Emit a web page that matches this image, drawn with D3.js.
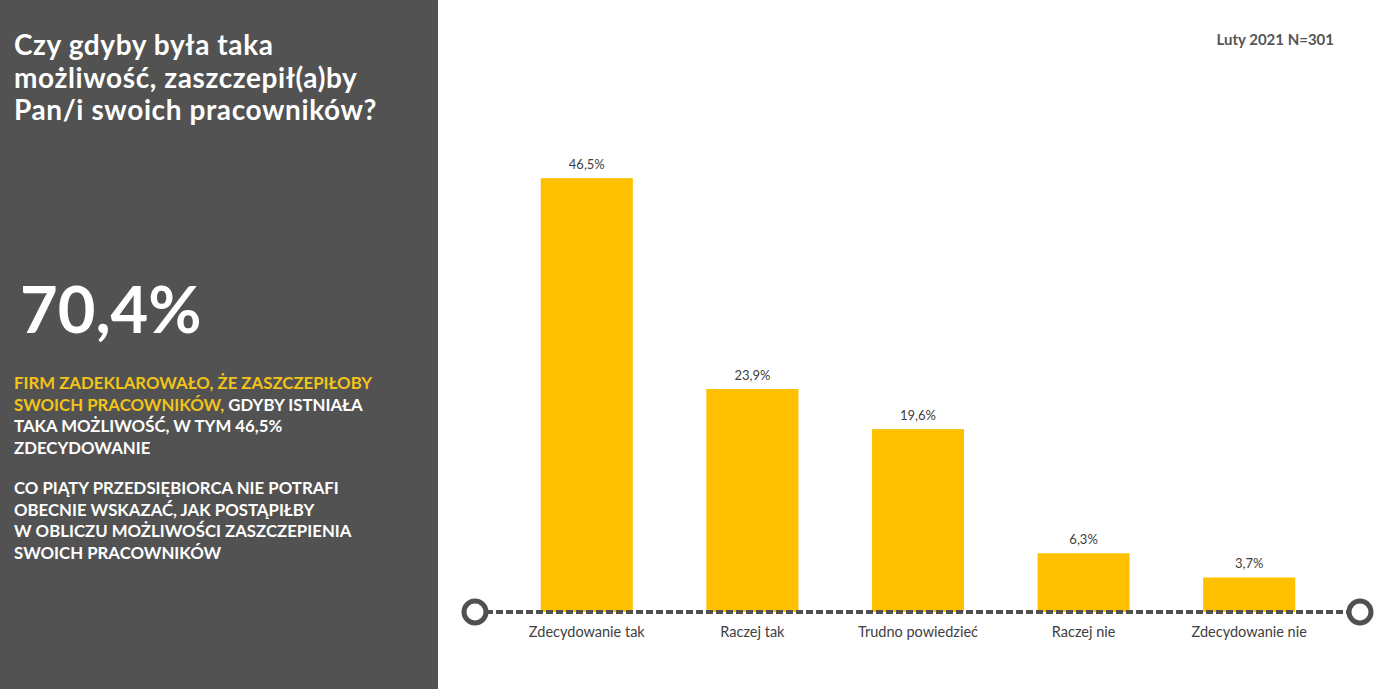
<!DOCTYPE html>
<html>
<head>
<meta charset="utf-8">
<script src="https://cdn.jsdelivr.net/npm/d3@7"></script>
<style>
  body { margin: 0; background: #fff; }
  svg { display: block; }
</style>
</head>
<body>
<svg id="chart"></svg>
<script>
// data
const categories = ["Zdecydowanie tak", "Raczej tak", "Trudno powiedzieć", "Raczej nie", "Zdecydowanie nie"];
const values = [46.5, 23.9, 19.6, 6.3, 3.7];
const valueLabels = ["46,5%", "23,9%", "19,6%", "6,3%", "3,7%"];
const titleLines = ["Czy gdyby była taka", "możliwość, zaszczepił(a)by", "Pan/i swoich pracowników?"];
const bigNumber = "70,4%";
const note = "Luty 2021 N=301";

const width = 1389, height = 689;
const panelW = 438;
const baseY = 612;
const font = "Lato, 'Noto Sans', sans-serif";

const svg = d3.select('#chart')
  .attr('width', width)
  .attr('height', height)
  .attr('viewBox', [0, 0, width, height]);

// left panel
svg.append('rect').attr('x', 0).attr('y', 0).attr('width', panelW).attr('height', height)
  .style('fill', '#525252');

svg.append('g').selectAll('text')
  .data(titleLines)
  .join('text')
  .attr('x', 14)
  .attr('y', (d, i) => 55 + i * 32.5)
  .text(d => d)
  .style('font-family', font)
  .style('font-weight', 'bold')
  .style('font-size', '28px')
  .style('letter-spacing', '0.6px')
  .style('fill', '#fff');

svg.append('text').attr('x', 20).attr('y', 333).text(bigNumber)
  .style('font-family', font)
  .style('font-weight', 'bold')
  .style('font-size', '65px')
  .style('fill', '#fff');

// paragraph lines: [ [text, colour], ... ]
const yellowTxt = '#f2c318';
const para = [
  [["FIRM ZADEKLAROWAŁO, ŻE ZASZCZEPIŁOBY", yellowTxt]],
  [["SWOICH PRACOWNIKÓW,", yellowTxt], [" GDYBY ISTNIAŁA", '#fff']],
  [["TAKA MOŻLIWOŚĆ, W TYM 46,5%", '#fff']],
  [["ZDECYDOWANIE", '#fff']],
  [["CO PIĄTY PRZEDSIĘBIORCA NIE POTRAFI", '#fff']],
  [["OBECNIE WSKAZAĆ, JAK POSTĄPIŁBY", '#fff']],
  [["W OBLICZU MOŻLIWOŚCI ZASZCZEPIENIA", '#fff']],
  [["SWOICH PRACOWNIKÓW", '#fff']]
];
const paraY = [389, 410.5, 432, 453.5, 494, 515.5, 537, 558.5];
para.forEach((line, i) => {
  const t = svg.append('text').attr('x', 14).attr('y', paraY[i])
    .style('font-family', font)
    .style('font-weight', 'bold')
    .style('font-size', '16.8px');
  line.forEach(seg => {
    t.append('tspan').text(seg[0]).style('fill', seg[1]);
  });
});

// date / sample note
svg.append('text').attr('x', 1334).attr('y', 45).text(note)
  .attr('text-anchor', 'end')
  .style('font-family', font)
  .style('font-weight', 'bold')
  .style('font-size', '15px')
  .style('fill', '#555');

// scales
const x = d3.scaleBand()
  .domain(categories)
  .range([504, 1332])
  .paddingInner(0.444)
  .paddingOuter(0.222);

const y = d3.scaleLinear()
  .domain([0, 50])
  .range([baseY, baseY - 466.5]);

// bars
svg.append('g').selectAll('rect')
  .data(values)
  .join('rect')
  .attr('x', (d, i) => x(categories[i]))
  .attr('y', d => y(d))
  .attr('width', x.bandwidth())
  .attr('height', d => y(0) - y(d))
  .style('fill', '#ffc000');

svg.append('g').selectAll('text')
  .data(values)
  .join('text')
  .attr('x', (d, i) => x(categories[i]) + x.bandwidth() / 2)
  .attr('y', d => y(d) - 9)
  .attr('text-anchor', 'middle')
  .text((d, i) => valueLabels[i])
  .style('font-family', font)
  .style('font-size', '13px')
  .style('fill', '#404040');

// dashed axis line with end rings
svg.append('line')
  .attr('x1', 486).attr('x2', 1349)
  .attr('y1', baseY).attr('y2', baseY)
  .style('stroke', '#505050')
  .style('stroke-width', 4)
  .style('stroke-dasharray', '7,3');

[475, 1360].forEach(cx => {
  svg.append('circle').attr('cx', cx).attr('cy', baseY).attr('r', 11)
    .style('fill', '#fff')
    .style('stroke', '#505050')
    .style('stroke-width', 5);
});

svg.append('g').selectAll('text')
  .data(categories)
  .join('text')
  .attr('x', d => x(d) + x.bandwidth() / 2)
  .attr('y', 637)
  .attr('text-anchor', 'middle')
  .text(d => d)
  .style('font-family', font)
  .style('font-size', '14.5px')
  .style('fill', '#404040');
</script>
</body>
</html>
